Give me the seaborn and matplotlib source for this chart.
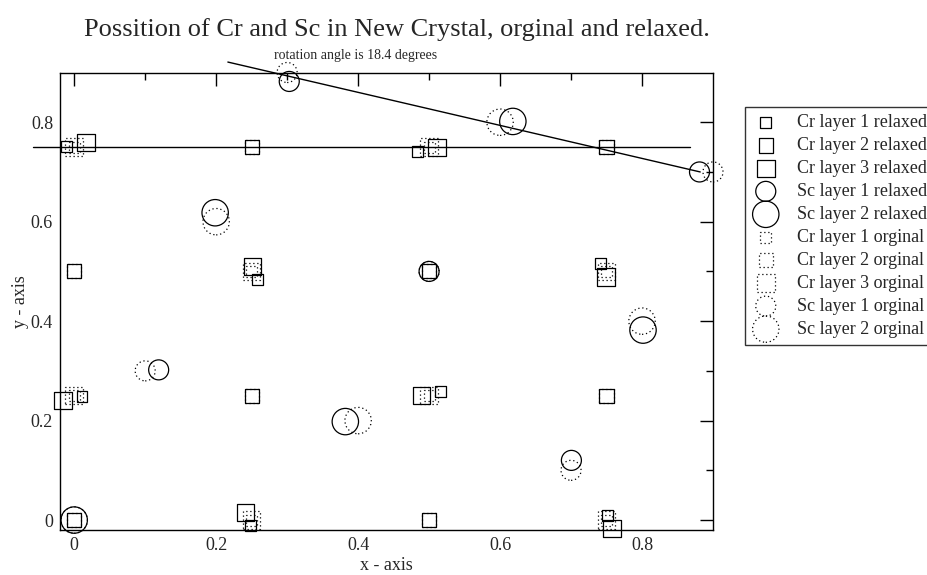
import matplotlib
matplotlib.use("Agg")
import matplotlib.pyplot as plt
import seaborn as sns
import numpy as np
import pandas as pd

# ---------------- data ----------------
cr1_rel_x = [0.249, 0.751, 0.011, 0.516, 0.258, 0.742, -0.011, 0.484]
cr1_rel_y = [-0.011, 0.010, 0.248, 0.258, 0.483, 0.516, 0.751, 0.741]
cr2_rel_x = [0.0, 0.5, 0.25, 0.75, 0.0, 0.5, 0.25, 0.75]
cr2_rel_y = [0.0, 0.0, 0.25, 0.25, 0.5, 0.5, 0.75, 0.75]
cr3_rel_x = [0.241, 0.758, -0.0155, 0.489, 0.251, 0.749, 0.0165, 0.511]
cr3_rel_y = [0.0155, -0.017, 0.240, 0.250, 0.510, 0.489, 0.759, 0.749]
sc1_rel_x = [0.303, 0.881, 0.5, 0.119, 0.7005]
sc1_rel_y = [0.882, 0.700, 0.5, 0.302, 0.120]
sc2_rel_x = [0.1986, 0.618, 0.0, 0.382, 0.8014]
sc2_rel_y = [0.618, 0.8016, 0.0, 0.198, 0.382]

cr1_org_x = [0.25, 0.75, 0.0, 0.5, 0.25, 0.75, 0.0, 0.5]
cr1_org_y = [0.0, 0.0, 0.25, 0.25, 0.5, 0.5, 0.75, 0.75]
cr2_org_x = [0.0, 0.5, 0.25, 0.75, 0.0, 0.5, 0.25, 0.75]
cr2_org_y = [0.0, 0.0, 0.25, 0.25, 0.5, 0.5, 0.75, 0.75]
cr3_org_x = [0.25, 0.75, 0.0, 0.5, 0.25, 0.75, 0.0, 0.5]
cr3_org_y = [0.0, 0.0, 0.25, 0.25, 0.5, 0.5, 0.75, 0.75]
sc1_org_x = [0.3, 0.9, 0.5, 0.1, 0.7]
sc1_org_y = [0.9, 0.7, 0.5, 0.3, 0.1]
sc2_org_x = [0.2, 0.6, 0.0, 0.4, 0.8]
sc2_org_y = [0.6, 0.8, 0.0, 0.2, 0.4]

hline_x = [-0.058, 0.867]
hline_y = [0.75, 0.75]
rot_x = [0.2165, 0.882]
rot_y = [0.921, 0.700]

x_ticks = [0, 0.2, 0.4, 0.6, 0.8]
y_ticks = [0, 0.2, 0.4, 0.6, 0.8]
x_tick_labels = ["0", "0.2", "0.4", "0.6", "0.8"]
y_tick_labels = ["0", "0.2", "0.4", "0.6", "0.8"]

title = "Possition of Cr and Sc in New Crystal, orginal and relaxed."
subtitle = "rotation angle is 18.4 degrees"

series = [
    ("Cr layer 1 relaxed", cr1_rel_x, cr1_rel_y),
    ("Cr layer 2 relaxed", cr2_rel_x, cr2_rel_y),
    ("Cr layer 3 relaxed", cr3_rel_x, cr3_rel_y),
    ("Sc layer 1 relaxed", sc1_rel_x, sc1_rel_y),
    ("Sc layer 2 relaxed", sc2_rel_x, sc2_rel_y),
    ("Cr layer 1 orginal", cr1_org_x, cr1_org_y),
    ("Cr layer 2 orginal", cr2_org_x, cr2_org_y),
    ("Cr layer 3 orginal", cr3_org_x, cr3_org_y),
    ("Sc layer 1 orginal", sc1_org_x, sc1_org_y),
    ("Sc layer 2 orginal", sc2_org_x, sc2_org_y),
]
# styles (marker, size in points, dotted?)
styles = [
    ("s", 7.9, False), ("s", 10.2, False), ("s", 12.6, False),
    ("o", 14.4, False), ("o", 19.0, False),
    ("s", 7.9, True), ("s", 10.2, True), ("s", 12.6, True),
    ("o", 14.4, True), ("o", 19.0, True),
]

# ---------------- figure ----------------
sns.set_style("white")
plt.rcParams["font.family"] = ["Liberation Serif", "DejaVu Serif"]

W, H = 928, 575
fig = plt.figure(figsize=(W / 100, H / 100), dpi=100)
ax = fig.add_axes([60 / W, 1 - 530 / H, (713 - 60) / W, (530 - 72.5) / H])

handles = []
for (label, xs, ys), (mk, ms, dotted) in zip(series, styles):
    df = pd.DataFrame({"x": xs, "y": ys})
    before = len(ax.collections)
    sns.scatterplot(data=df, x="x", y="y", marker=mk, s=ms ** 2, ax=ax,
                    legend=False, clip_on=False, zorder=3)
    coll = ax.collections[before]
    coll.set_facecolor("none")
    coll.set_edgecolor("black")
    coll.set_linewidth(0.9)
    if dotted:
        coll.set_linestyle((0, (1.0, 2.2)))
    coll.set_label(label)
    handles.append(coll)

sns.lineplot(x=hline_x, y=hline_y, ax=ax, color="black", lw=1.0,
             estimator=None, sort=False, clip_on=False, legend=False)
sns.lineplot(x=rot_x, y=rot_y, ax=ax, color="black", lw=1.0,
             estimator=None, sort=False, clip_on=False, legend=False)
if ax.get_legend() is not None:
    ax.get_legend().remove()

ax.set_xlim(-0.02, 0.9)
ax.set_ylim(-0.02, 0.9)
ax.set_xticks(x_ticks)
ax.set_xticklabels(x_tick_labels)
ax.set_yticks(y_ticks)
ax.set_yticklabels(y_tick_labels)
ax.set_xticks(np.arange(0.1, 0.9, 0.2), minor=True)
ax.set_yticks(np.arange(0.1, 0.9, 0.2), minor=True)
ax.tick_params(which="both", direction="in", top=True, right=True,
               color="black", width=1.0, labelsize=13)
ax.tick_params(which="major", length=9.5, pad=5)
ax.tick_params(which="minor", length=5)
for sp in ax.spines.values():
    sp.set_visible(True)
    sp.set_color("black")
    sp.set_linewidth(1.0)

ax.set_xlabel("x - axis", fontsize=13, labelpad=2)
ax.set_ylabel("y - axis", fontsize=13, labelpad=1)

fig.text(397 / W, 1 - 30 / H, title, ha="center", va="center", fontsize=19)
fig.text(356 / W, 1 - 55 / H, subtitle, ha="center", va="center", fontsize=10)

leg = fig.legend(handles=handles, loc="upper left",
                 bbox_to_anchor=(745 / W, 1 - 107 / H),
                 bbox_transform=fig.transFigure, borderaxespad=0,
                 fontsize=13, frameon=True, fancybox=False, shadow=False,
                 scatterpoints=1, handlelength=1.5, handletextpad=1.0,
                 borderpad=0.4, labelspacing=0.33)
leg.get_frame().set_edgecolor("black")
leg.get_frame().set_linewidth(1.0)

fig.savefig("out.png", dpi=100)
